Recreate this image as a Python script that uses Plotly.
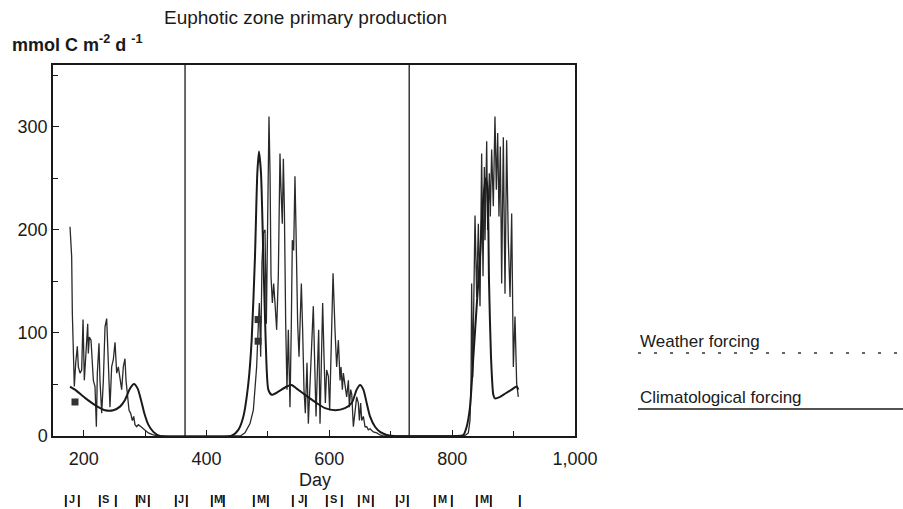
import plotly.graph_objects as go

# ---------------- data ----------------
weather_days = [177.7, 180.4, 181.5, 183.1, 184.7, 186.9, 189.6, 191.3, 194.0, 196.7, 198.9, 201.0,
                203.7, 206.5, 207.5, 209.2, 211.9, 214.1, 215.7, 218.4, 220.6, 222.2, 224.9, 226.5,
                229.3, 232.0, 234.7, 237.4, 239.0, 240.1, 242.8, 245.5, 248.2, 251.0, 253.7, 256.4,
                259.1, 261.8, 264.5, 267.2, 268.9, 271.1, 273.8, 276.5, 279.2, 281.4, 283.5, 286.3,
                289.0, 293.3, 297.1, 299.8, 305.2, 313.4, 321.5, 330, 455,
                462.6, 470.8, 476.2, 481.6, 484.4, 486.0, 488.2, 490.3, 492.5, 495.2, 497.4, 499.6,
                501.7, 503.4, 505.0, 507.2, 509.3, 511.5, 514.2, 516.9, 519.6, 521.3, 523.4, 525.1,
                526.7, 528.9, 531.0, 533.2, 535.9, 538.1, 539.7, 541.9, 544.0, 545.7, 548.4, 550.6,
                552.8, 554.4, 556.5, 558.7, 560.9, 563.6, 565.8, 568.5, 571.2, 573.9, 576.1, 578.3,
                580.4, 582.6, 584.8, 586.9, 589.1, 591.3, 593.5, 595.6, 598.4, 600.5, 602.7, 606.0,
                609.2, 611.9, 614.7, 617.4, 619.0, 621.2, 622.8, 625.5, 628.2, 631.0, 632.6, 634.7,
                636.4, 639.1, 641.8, 644.5, 647.2, 648.9, 651.0, 652.7, 655.4, 658.1, 660.8, 663.5,
                666.2, 671.6, 677.1, 682.5, 687.9, 700, 820,
                826.3, 829.0, 830.7, 831.7, 833.4, 835.5, 837.2, 839.9, 842.6, 845.3, 848.0, 850.2,
                852.4, 853.5, 856.2, 857.8, 860.5, 862.1, 864.3, 867.0, 869.7, 871.9, 874.1, 876.2,
                878.4, 880.6, 883.3, 886.0, 888.7, 891.4, 894.2, 896.9, 899.6, 902.3, 905.0, 907.7]
weather_vals = [203, 174, 119, 67, 48, 70, 87, 67, 61, 64, 113, 54,
                87, 109, 80, 96, 93, 74, 54, 48, 9, 61, 90, 54,
                22, 54, 106, 114, 87, 54, 28, 67, 74, 91, 61, 67,
                54, 45, 67, 75, 54, 38, 25, 22, 15, 19, 11, 9,
                11, 9, 7, 6, 3, 1, 0, 0, 0,
                3, 12, 25, 67, 109, 129, 77, 168, 197, 200, 109, 229,
                310, 255, 155, 129, 148, 129, 103, 155, 274, 239, 206, 269,
                223, 109, 45, 103, 28, 109, 190, 180, 252, 200, 109, 77,
                116, 148, 103, 45, 22, 71, 12, 54, 90, 126, 71, 19,
                61, 103, 12, 90, 129, 77, 32, 64, 58, 25, 77, 158,
                103, 67, 93, 54, 67, 45, 61, 51, 38, 54, 28, 45,
                41, 9, 22, 38, 32, 15, 32, 15, 19, 9, 9, 6,
                7, 4, 3, 1, 0, 0, 0,
                3, 15, 51, 148, 57, 155, 214, 135, 206, 126, 274, 155,
                261, 190, 286, 200, 255, 213, 278, 223, 310, 239, 294, 213,
                281, 148, 290, 138, 287, 190, 135, 216, 67, 116, 51, 38]

clim_days = [177.7, 185.8, 202.1, 218.4, 234.7, 248.2, 259.1, 267.2, 275.4, 281.9, 287.9, 293.3,
             298.7, 305.2, 313.4, 324.2, 440,
             451.8, 460.0, 468.1, 473.5, 478.9, 482.7, 485.4, 488.7, 492.5, 496.3, 500.6, 506.1,
             516.9, 530.5, 538.6, 546.8, 560.4, 576.6, 592.9, 610.0, 625.5, 636.4, 644.5, 650.0,
             655.4, 660.8, 666.2, 674.4, 682.5, 693.4, 704.2, 805,
             818.2, 823.6, 829.0, 834.5, 839.9, 845.3, 850.0, 854.5, 857.5, 860.0, 863.2, 867.0,
             869.7, 877.9, 886.0, 896.9, 905.0, 907.7]
clim_vals = [48, 45, 37, 30, 25, 25, 28.5, 35, 46, 50.5, 46, 35,
             22, 11, 4, 0, 0,
             6, 19, 51, 93, 174, 255, 276, 255, 174, 93, 45, 40,
             43, 48, 49.5, 46, 40, 33, 27, 25, 27, 32, 45, 49.5,
             45, 32, 19, 9, 4, 1, 0, 0,
             1, 9, 28, 77, 126, 174, 225, 250, 240, 150, 77, 40,
             36.5, 38, 41, 45, 48, 45]

obs_days = [185.8, 484, 484]
obs_vals = [33, 113, 92]

x_tick_vals = [200, 400, 600, 800, 1000]
y_tick_vals = [0, 100, 200, 300]
year_breaks = [365, 730]

month_letters = ['J', 'S', 'N', 'J', 'M', 'M', 'J', 'S', 'N', 'J', 'M', 'M']
month_days = [181, 236, 295, 358, 419, 489, 554, 606, 660, 718, 785, 852]
month_bar_days = [171, 192, 227, 253, 287, 306, 350, 368, 409, 429, 477, 500, 541, 562,
                  596, 621, 648, 671, 710, 728, 772, 800, 840, 863, 910]

title_text = "Euphotic zone primary production"
unit_text = "<b>mmol C m<sup>-2</sup> d <sup>-1</sup></b>"
x_title = "Day"
legend_labels = ["Weather forcing", "Climatological forcing"]

# ---------------- layout helpers (pixel -> paper) ----------------
L, R, T, B = 53, 575, 65, 436
def pxx(x):
    return (x - L) / (R - L)
def pyy(y):
    return (B - y) / (B - T)

FONT = "Liberation Sans, Arial, Helvetica, sans-serif"
INK = "#1a1a1a"

fig = go.Figure()
fig.add_trace(go.Scatter(x=weather_days, y=weather_vals, mode="lines",
                         line=dict(color="#2a2a2a", width=1.3), showlegend=False))
fig.add_trace(go.Scatter(x=clim_days, y=clim_vals, mode="lines",
                         line=dict(color=INK, width=2, shape="spline", smoothing=0.6),
                         showlegend=False))
fig.add_trace(go.Scatter(x=obs_days, y=obs_vals, mode="markers",
                         marker=dict(symbol="square", size=7, color="#333"),
                         showlegend=False))

shapes = []
for d in year_breaks:
    shapes.append(dict(type="line", xref="x", yref="paper", x0=d, x1=d, y0=0, y1=1,
                       line=dict(color=INK, width=1.3)))
# legend lines
shapes.append(dict(type="line", xref="paper", yref="paper", x0=pxx(638), x1=pxx(903),
                   y0=pyy(353), y1=pyy(353), line=dict(color="#333", width=1.5, dash="3px,13px")))
shapes.append(dict(type="line", xref="paper", yref="paper", x0=pxx(638), x1=pxx(903),
                   y0=pyy(409), y1=pyy(409), line=dict(color=INK, width=1.6)))

ann = []
ann.append(dict(text=title_text, xref="paper", yref="paper", x=pxx(162), y=pyy(18),
                xanchor="left", yanchor="middle", showarrow=False,
                font=dict(family=FONT, size=19, color=INK)))
ann.append(dict(text=unit_text, xref="paper", yref="paper", x=pxx(10), y=pyy(43),
                xanchor="left", yanchor="middle", showarrow=False,
                font=dict(family=FONT, size=18, color=INK)))
ann.append(dict(text=x_title, xref="paper", yref="paper", x=pxx(315), y=pyy(480),
                xanchor="center", yanchor="middle", showarrow=False,
                font=dict(family=FONT, size=18, color=INK)))
ann.append(dict(text=legend_labels[0], xref="paper", yref="paper", x=pxx(638), y=pyy(341),
                xanchor="left", yanchor="middle", showarrow=False,
                font=dict(family=FONT, size=17, color=INK)))
ann.append(dict(text=legend_labels[1], xref="paper", yref="paper", x=pxx(638), y=pyy(397),
                xanchor="left", yanchor="middle", showarrow=False,
                font=dict(family=FONT, size=17, color=INK)))
for d, m in zip(month_days, month_letters):
    ann.append(dict(text="<b>%s</b>" % m, xref="x", yref="paper", x=d, y=pyy(499),
                    xanchor="center", yanchor="middle", showarrow=False,
                    font=dict(family=FONT, size=11, color=INK)))
for d in month_bar_days:
    ann.append(dict(text="<b>|</b>", xref="x", yref="paper", x=d, y=pyy(499),
                    xanchor="center", yanchor="middle", showarrow=False,
                    font=dict(family=FONT, size=13, color="#000")))

fig.update_layout(
    width=903, height=509, autosize=False,
    margin=dict(l=L, r=903 - R, t=T, b=509 - B, pad=0),
    paper_bgcolor="white", plot_bgcolor="white",
    shapes=shapes, annotations=ann, showlegend=False,
    font=dict(family=FONT, color=INK),
)
fig.update_xaxes(range=[150, 1000], tickvals=x_tick_vals, tickformat=",", ticks="inside",
                 ticklen=6, tickwidth=1.2, tickcolor=INK, ticklabelstandoff=6,
                 minor=dict(dtick=100, tick0=0, ticks="inside", ticklen=5, tickcolor=INK),
                 showgrid=False, zeroline=False, showline=True, linecolor=INK, linewidth=1.5,
                 mirror=True, tickfont=dict(family=FONT, size=18, color=INK))
fig.update_yaxes(range=[0, 360], tickvals=y_tick_vals, ticks="inside", ticklen=6,
                 tickwidth=1.2, tickcolor=INK,
                 minor=dict(dtick=50, tick0=0, ticks="inside", ticklen=5, tickcolor=INK),
                 showgrid=False, zeroline=False, showline=True, linecolor=INK, linewidth=1.5,
                 mirror=True, tickfont=dict(family=FONT, size=18, color=INK))

fig.write_html("out.html")
